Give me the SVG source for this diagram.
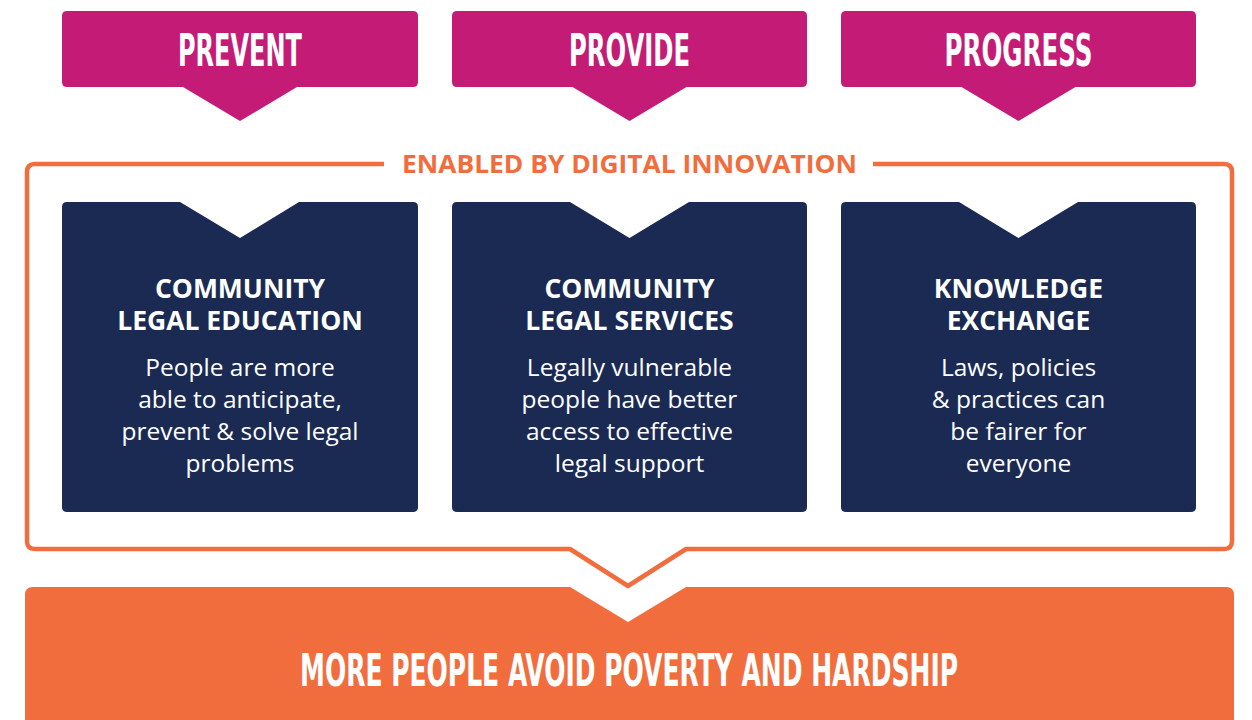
<svg xmlns="http://www.w3.org/2000/svg" width="1252" height="720" viewBox="0 0 1252 720">
<style>
.hdr{fill:#C41C76}
.nav{fill:#1B2A53}
.org{fill:#F26D3D}
.htxt{font-family:"DejaVu Sans Condensed","Liberation Sans",sans-serif;font-weight:bold;font-size:44px;fill:#fff;text-anchor:middle}
.ttl{font-family:"Open Sans","Noto Sans",sans-serif;font-weight:bold;font-size:26.5px;fill:#fff;text-anchor:middle}
.body{font-family:"Open Sans","Noto Sans",sans-serif;font-size:24.5px;fill:#fff;text-anchor:middle}
.lbl{font-family:"Open Sans","Noto Sans",sans-serif;font-weight:bold;font-size:25px;fill:#F26D3D;text-anchor:middle}
.frame{fill:none;stroke:#F26D3D;stroke-width:4.5;stroke-linejoin:round}
</style>
<rect width="1252" height="720" fill="#fff"/>

<g id="prevent">
<path class="hdr" d="M67,11 H413 Q418,11 418,16 V82 Q418,87 413,87 H297 L240,121 L183,87 H67 Q62,87 62,82 V16 Q62,11 67,11 Z"/>
<text class="htxt" x="240" y="66" textLength="124" lengthAdjust="spacingAndGlyphs">PREVENT</text>
</g>
<g id="provide">
<path class="hdr" d="M457,11 H802 Q807,11 807,16 V82 Q807,87 802,87 H686.5 L629.5,121 L572.5,87 H457 Q452,87 452,82 V16 Q452,11 457,11 Z"/>
<text class="htxt" x="629.5" y="66" textLength="121" lengthAdjust="spacingAndGlyphs">PROVIDE</text>
</g>
<g id="progress">
<path class="hdr" d="M846,11 H1191 Q1196,11 1196,16 V82 Q1196,87 1191,87 H1075.5 L1018.5,121 L961.5,87 H846 Q841,87 841,82 V16 Q841,11 846,11 Z"/>
<text class="htxt" x="1018.5" y="66" textLength="148" lengthAdjust="spacingAndGlyphs">PROGRESS</text>
</g>

<g id="connectors">
<path class="frame" d="M384,164 H35 Q27,164 27,172 V541 Q27,549 35,549 H570 L628,586 L686,549 H1224 Q1232,549 1232,541 V172 Q1232,164 1224,164 H873"/>
</g>
<text id="enabled" class="lbl" x="629.5" y="173" textLength="455" lengthAdjust="spacingAndGlyphs">ENABLED BY DIGITAL INNOVATION</text>

<g id="cle">
<path class="nav" d="M67,202 H180 L240,238 L299,202 H413 Q418,202 418,207 V507 Q418,512 413,512 H67 Q62,512 62,507 V207 Q62,202 67,202 Z"/>
<text class="ttl" x="240" y="298">COMMUNITY</text>
<text class="ttl" x="240" y="330">LEGAL EDUCATION</text>
<text class="body" x="240" y="376">People are more</text>
<text class="body" x="240" y="408">able to anticipate,</text>
<text class="body" x="240" y="440">prevent &amp; solve legal</text>
<text class="body" x="240" y="472">problems</text>
</g>
<g id="cls">
<path class="nav" d="M457,202 H570 L629.5,238 L689,202 H802 Q807,202 807,207 V507 Q807,512 802,512 H457 Q452,512 452,507 V207 Q452,202 457,202 Z"/>
<text class="ttl" x="629.5" y="298">COMMUNITY</text>
<text class="ttl" x="629.5" y="330">LEGAL SERVICES</text>
<text class="body" x="629.5" y="376">Legally vulnerable</text>
<text class="body" x="629.5" y="408">people have better</text>
<text class="body" x="629.5" y="440">access to effective</text>
<text class="body" x="629.5" y="472">legal support</text>
</g>
<g id="ke">
<path class="nav" d="M846,202 H959 L1018.5,238 L1078,202 H1191 Q1196,202 1196,207 V507 Q1196,512 1191,512 H846 Q841,512 841,507 V207 Q841,202 846,202 Z"/>
<text class="ttl" x="1018.5" y="298">KNOWLEDGE</text>
<text class="ttl" x="1018.5" y="330">EXCHANGE</text>
<text class="body" x="1018.5" y="376">Laws, policies</text>
<text class="body" x="1018.5" y="408">&amp; practices can</text>
<text class="body" x="1018.5" y="440">be fairer for</text>
<text class="body" x="1018.5" y="472">everyone</text>
</g>

<g id="outcome">
<path class="org" d="M33,587 H570 L628,622 L686,587 H1226 Q1234,587 1234,595 V720 H25 V595 Q25,587 33,587 Z"/>
<text class="htxt" x="629" y="686" textLength="658" lengthAdjust="spacingAndGlyphs">MORE PEOPLE AVOID POVERTY AND HARDSHIP</text>
</g>
</svg>
